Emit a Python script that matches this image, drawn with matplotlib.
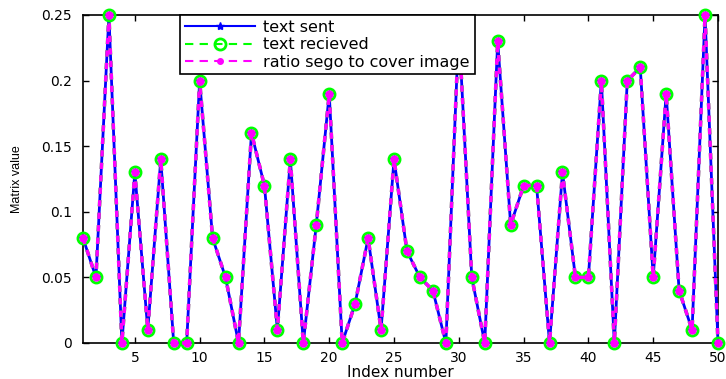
import matplotlib
matplotlib.use("Agg")
import matplotlib.pyplot as plt

index = list(range(1, 51))
text_sent = [0.08, 0.05, 0.25, 0.0, 0.13, 0.01, 0.14, 0.0, 0.0, 0.20,
             0.08, 0.05, 0.0, 0.16, 0.12, 0.01, 0.14, 0.0, 0.09, 0.19,
             0.0, 0.03, 0.08, 0.01, 0.14, 0.07, 0.05, 0.04, 0.0, 0.24,
             0.05, 0.0, 0.23, 0.09, 0.12, 0.12, 0.0, 0.13, 0.05, 0.05,
             0.20, 0.0, 0.20, 0.21, 0.05, 0.19, 0.04, 0.01, 0.25, 0.0]
text_received = list(text_sent)
ratio = list(text_sent)
xticks = [5, 10, 15, 20, 25, 30, 35, 40, 45, 50]
xtick_labels = ["5", "10", "15", "20", "25", "30", "35", "40", "45", "50"]
yticks = [0, 0.05, 0.1, 0.15, 0.2, 0.25]
ytick_labels = ["0", "0.05", "0.1", "0.15", "0.2", "0.25"]

plt.rcParams['font.family'] = ['DejaVu Sans']

fig = plt.figure(figsize=(7.26, 3.79), dpi=100)
ax = fig.add_axes([83/726, 1-343/379, 635/726, 328/379])

ax.plot(index, text_sent, '-', color='blue', lw=2, marker='*', ms=6,
        label='text sent', zorder=3, clip_on=False)
ax.plot(index, text_received, '--', color='#00ff00', lw=2.5, marker='o', ms=8,
        mfc='none', mec='#00ff00', mew=2, dashes=(1.8, 1.8),
        label='text recieved', zorder=4, clip_on=False)
ax.plot(index, ratio, '--', color='magenta', lw=2.5, marker='o', ms=5,
        mfc='magenta', mec='magenta', dashes=(1.8, 1.8),
        label='ratio sego to cover image', zorder=5, clip_on=False)

ax.set_xlim(1, 50)
ax.set_ylim(0, 0.25)
ax.set_xticks(xticks)
ax.set_xticklabels(xtick_labels)
ax.set_yticks(yticks)
ax.set_yticklabels(ytick_labels)
ax.tick_params(direction='in', top=True, right=True, length=4, width=1,
               labelsize=10)
ax.tick_params(axis='x', pad=5.5)
ax.tick_params(axis='y', pad=8)
for s in ax.spines.values():
    s.set_linewidth(1.2)

ax.set_xlabel('Index number', fontsize=11, labelpad=0)
ax.set_ylabel('Matrix value', fontsize=9, labelpad=13,
              family=['Liberation Sans', 'DejaVu Sans'])

leg = ax.legend(loc='upper left', bbox_to_anchor=(0.153, 1.0), borderaxespad=0,
                fancybox=False, edgecolor='black', framealpha=1, fontsize=11.5,
                handlelength=4.4, borderpad=0.3, labelspacing=0.15,
                handletextpad=0.5)
leg.get_frame().set_linewidth(1.2)
leg.set_zorder(10)
legend_lines = leg.get_lines()
legend_lines[0].set_linewidth(1.5)
legend_lines[1].set_linewidth(1.5)
legend_lines[1].set_dashes((4, 3))
legend_lines[2].set_linewidth(1.5)
legend_lines[2].set_dashes((4, 3))
legend_lines[2].set_markersize(4)

fig.savefig('out.png', dpi=100)
